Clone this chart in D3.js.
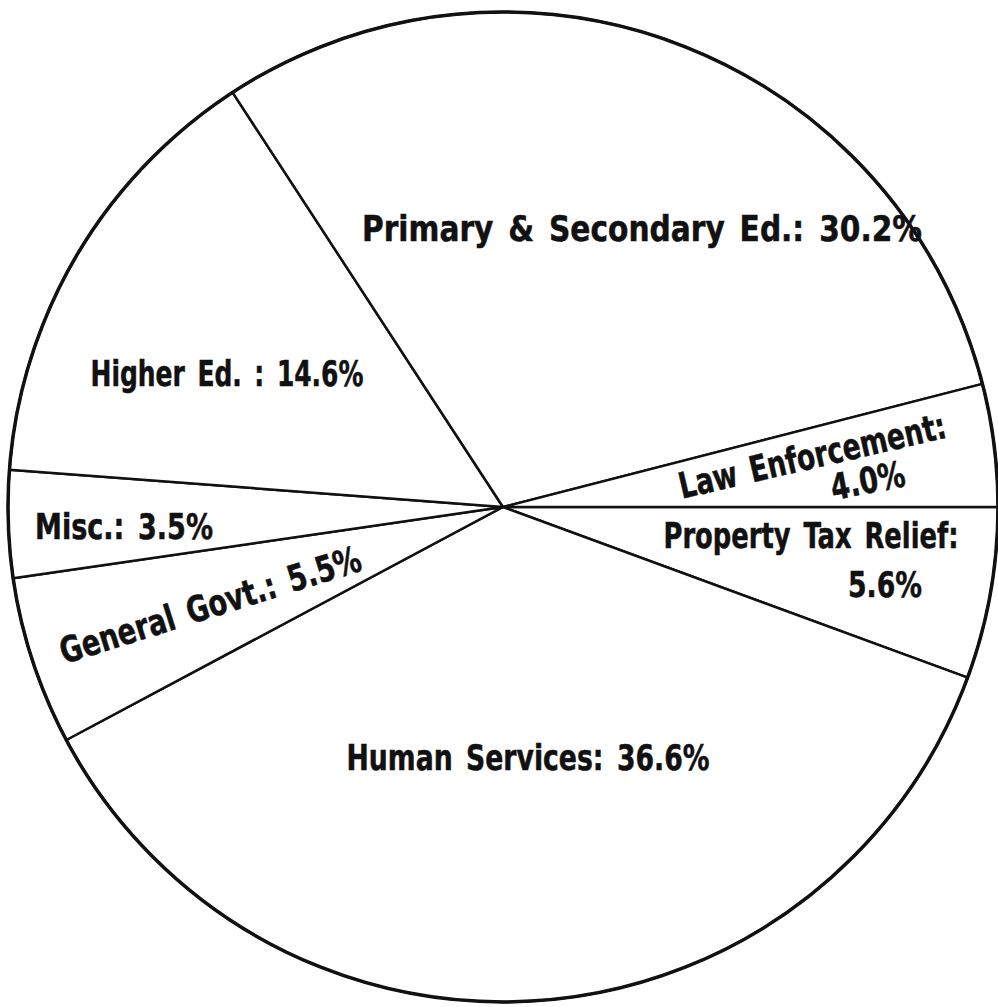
<!DOCTYPE html>
<html>
<head>
<meta charset="utf-8">
<script src="https://cdn.jsdelivr.net/npm/d3@7"></script>
<style>
  body { margin: 0; background: #fff; }
  text { font-family: "Liberation Sans Narrow", "DejaVu Sans Condensed", sans-serif; font-weight: bold; fill: #111; stroke: #111; stroke-width: 0.5px; word-spacing: 5px; }
</style>
</head>
<body>
<div id="chart-area"></div>
<script>
// slices in clockwise order starting at 3 o'clock
let categories = ["Property Tax Relief", "Human Services", "General Govt.", "Misc.", "Higher Ed.", "Primary & Secondary Ed.", "Law Enforcement"]
let shares = [5.6, 36.6, 5.5, 3.5, 14.6, 30.2, 4.0]

let width = 998
let height = 1007
let cx = 503, cy = 507, radius = 495

let pct = d => d.value.toFixed(1) + "%"

// where each label sits: baseline centre, rotation, text width
let labelLayout = {
  "Property Tax Relief": [{x: 811, y: 548, len: 295, text: d => d.name + ":"}, {x: 885, y: 597, len: 74, text: pct}],
  "Human Services": [{x: 528, y: 770, len: 363, text: d => d.name + ": " + pct(d)}],
  "General Govt.": [{x: 214, y: 617, len: 314, rot: -17.5, text: d => d.name + ": " + pct(d)}],
  "Misc.": [{x: 124, y: 539, len: 178, text: d => d.name + ": " + pct(d)}],
  "Higher Ed.": [{x: 227, y: 386, len: 273, text: d => "Higher Ed. : " + pct(d)}],
  "Primary & Secondary Ed.": [{x: 642, y: 241, len: 560, text: d => d.name + ": " + pct(d)}],
  "Law Enforcement": [{x: 815, y: 468, len: 273, rot: -13, text: d => d.name + ":"}, {x: 870, y: 493, len: 75, rot: -11, text: pct}]
}

let data = categories.map((c, i) => ({name: c, value: shares[i]}))

let svg = d3.select("#chart-area")
  .append("svg")
    .attr("width", width)
    .attr("height", height)

let g = svg.append("g")
  .attr("transform", "translate(" + cx + ", " + cy + ")")

let pie = d3.pie()
  .sort(null)
  .value(d => d.value)
  .startAngle(Math.PI / 2)
  .endAngle(Math.PI / 2 + 2 * Math.PI)

let arc = d3.arc().innerRadius(0).outerRadius(radius)

g.selectAll("path.slice")
  .data(pie(data))
  .enter()
  .append("path")
    .attr("class", "slice")
    .attr("d", arc)
    .attr("fill", "#fff")
    .attr("stroke", "#111")
    .attr("stroke-width", 2.5)
    .attr("stroke-linejoin", "round")

g.append("circle")
  .attr("r", radius)
  .attr("fill", "none")
  .attr("stroke", "#111")
  .attr("stroke-width", 3.5)

data.forEach(d => {
  labelLayout[d.name].forEach(l => {
    svg.append("text")
      .attr("transform", "translate(" + l.x + "," + l.y + ") rotate(" + (l.rot || 0) + ")")
      .attr("text-anchor", "middle")
      .attr("font-size", "36px")
      .attr("textLength", l.len)
      .attr("lengthAdjust", "spacingAndGlyphs")
      .text(l.text(d))
  })
})
</script>
</body>
</html>
